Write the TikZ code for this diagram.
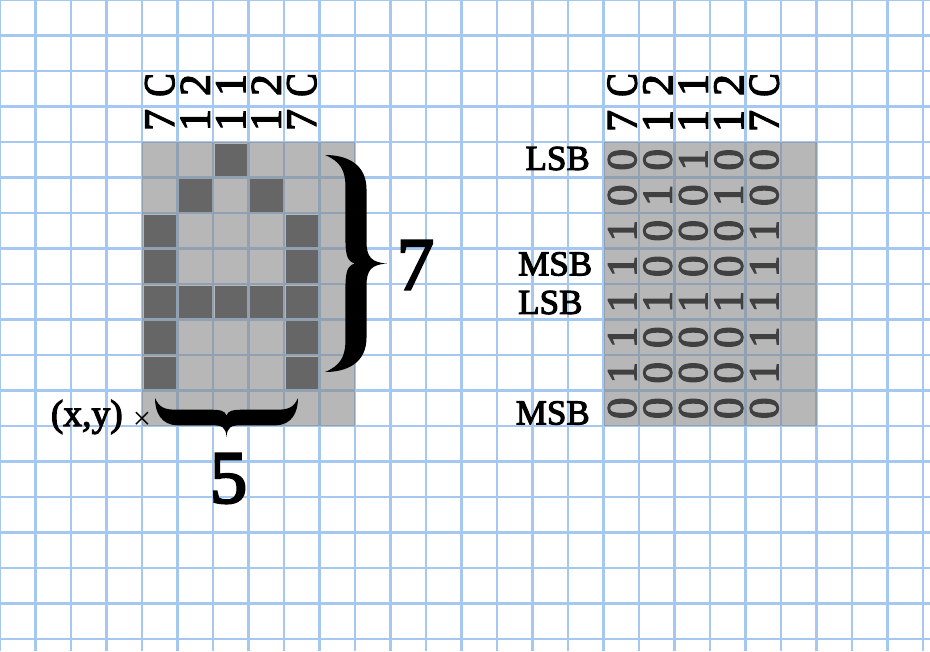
\documentclass[tikz,border=0pt]{standalone}
\usepackage{fontspec}
\setmainfont{Liberation Serif}
\newfontfamily\semibold[FakeBold=3]{Liberation Serif}
\definecolor{gridblue}{RGB}{164,200,240}
\definecolor{pixdark}{RGB}{102,102,102}
\definecolor{digitgray}{RGB}{64,64,64}
\tikzset{
  gridline/.style={draw=gridblue, line width=2pt},
  boxfill/.style={fill=black!47, fill opacity=0.6},
  pixel/.style={fill=pixdark},
  collabel/.style={rotate=90, inner sep=0pt, font=\fontsize{35}{40}\selectfont\semibold},
  digit/.style={rotate=90, inner sep=0pt, text=digitgray, font=\fontsize{34}{40}\selectfont\semibold},
  bitlabel/.style={inner sep=0pt, font=\fontsize{28}{32}\selectfont\semibold},
  biglabel/.style={inner sep=0pt, font=\fontsize{60}{66}\selectfont\semibold},
  pics/bracefill/.style={code={
    \fill[black] (0,1) .. controls (0.35,1) and ({0.5+#1},0.92) .. ({0.5+#1},0.68)
      -- ({0.5+#1},0.2)
      .. controls ({0.5+#1},0.06) and (0.75,0.01) .. (1,0)
      .. controls (0.75,-0.01) and ({0.5+#1},-0.06) .. ({0.5+#1},-0.2)
      -- ({0.5+#1},-0.68)
      .. controls ({0.5+#1},-0.92) and (0.35,-1) .. (0,-1)
      .. controls (0.25,-0.94) and ({0.5-#1},-0.86) .. ({0.5-#1},-0.7)
      -- ({0.5-#1},-0.22)
      .. controls ({0.5-#1},-0.08) and ({0.53-#1},-0.02) .. ({0.65-#1},0)
      .. controls ({0.53-#1},0.02) and ({0.5-#1},0.08) .. ({0.5-#1},0.22)
      -- ({0.5-#1},0.7)
      .. controls ({0.5-#1},0.86) and (0.25,0.94) .. (0,1) -- cycle;
  }}
}
\begin{document}
\begin{tikzpicture}[x=0.8pt, y=-0.8pt]
\useasboundingbox (0,0) rectangle (930,651);
\fill[white] (0,0) rectangle (930,651);
% grid
\foreach \i in {0,...,26} \draw[gridline] ({\i*35.5},0) -- ({\i*35.5},651);
\foreach \j in {0,...,18} \draw[gridline] (0,{\j*35.5}) -- (930,{\j*35.5});
% boxes
\fill[boxfill] (142,142) rectangle (355,426);
\fill[boxfill] (603.5,142) rectangle (816.5,426);
% pixels of the glyph
\foreach \c/\r in {2/0, 1/1, 3/1, 0/2, 4/2, 0/3, 4/3, 0/4, 1/4, 2/4, 3/4, 4/4, 0/5, 4/5, 0/6, 4/6}
  \fill[pixel] ({142+\c*35.5+1.5},{142+\r*35.5+1.5}) rectangle ++(32.5,32.5);
% digits in the right box
\foreach \r/\bits in {0/{0,0,1,0,0}, 1/{0,1,0,1,0}, 2/{1,0,0,0,1}, 3/{1,0,0,0,1}, 4/{1,1,1,1,1}, 5/{1,0,0,0,1}, 6/{1,0,0,0,1}, 7/{0,0,0,0,0}}
  \foreach \b [count=\c from 0] in \bits
    \node[digit] (d-\r-\c) at ({603.5+\c*35.5+18.75},{142+\r*35.5+17.75}) {\b};
% column labels
\foreach \t/\u [count=\c from 0] in {{\scalebox{0.8}[1]{C}}/7, 2/1, 1/1, 2/1, {\scalebox{0.8}[1]{C}}/7}{
  \node[collabel] (lt-\c) at ({142+\c*35.5+17.75},85) {\t};
  \node[collabel] (lb-\c) at ({142+\c*35.5+17.75},120) {\u};
  \node[collabel] (rt-\c) at ({603.5+\c*35.5+18.75},85) {\t};
  \node[collabel] (rb-\c) at ({603.5+\c*35.5+18.75},121) {\u};
}
% LSB / MSB labels
\node[bitlabel, anchor=east] (lsbA) at (590,158.5) {LSB};
\node[bitlabel, anchor=west] (msbA) at (518,264) {MSB};
\node[bitlabel, anchor=west] (lsbB) at (518,302.5) {LSB};
\node[bitlabel, anchor=east] (msbB) at (590,413) {MSB};
% braces
\pic[xscale=62, yscale=108.5] (braceR) at (325,263.5) {bracefill=0.17};
\pic[rotate=-90, xscale=39, yscale=71.5] (braceB) at (226.5,398) {bracefill=0.2};
% numbers
\node[biglabel] (seven) at (415.5,265) {7};
\node[biglabel] (five) at (228.5,478.5) {5};
% origin
\node[inner sep=0pt, font=\fontsize{30}{34}\selectfont\semibold, anchor=east] (xy) at (123,417) {(x,y)};
\node[inner sep=0pt, font=\fontsize{26}{30}\selectfont] (cross) at (142,421) {×};
\end{tikzpicture}
\end{document}
